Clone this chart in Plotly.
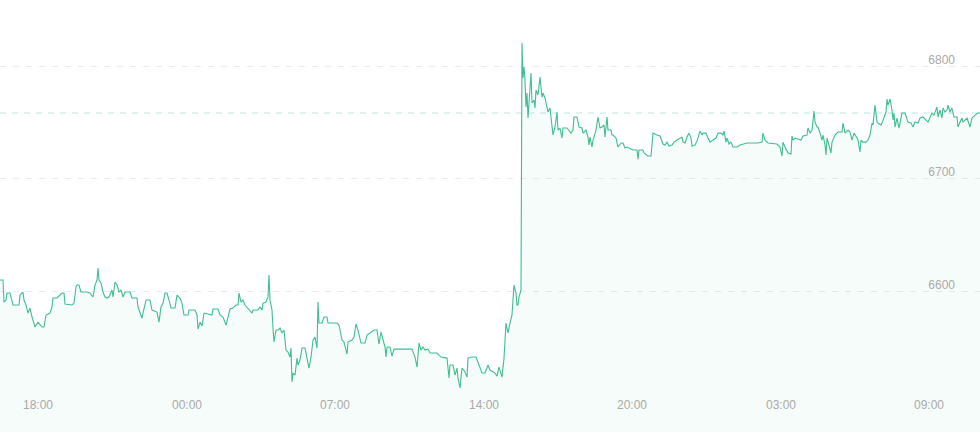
import plotly.graph_objects as go

# sample index along the time axis
idx = [0, 3, 4, 6, 7, 10, 13, 19, 20, 23, 24, 26, 28, 30, 32, 33, 35, 38, 40, 42, 44, 46, 50, 52, 53, 57,
       62, 64, 65, 72, 74, 76, 77, 79, 81, 87, 90, 93, 95, 97, 98, 99, 101, 103, 105, 107, 109, 112, 113,
       115, 117, 119, 121, 123, 125, 130, 132, 137, 138, 142, 143, 146, 150, 152, 157, 159, 161, 163, 165,
       167, 169, 171, 175, 177, 180, 182, 184, 188, 189, 195, 197, 198, 200, 202, 204, 208, 212, 213, 218,
       220, 223, 226, 228, 230, 233, 236, 238, 239, 241, 243, 245, 248, 252, 253, 258, 260, 262, 263, 266,
       268, 269, 270, 272, 273, 274, 276, 278, 280, 282, 284, 286, 288, 290, 291, 292, 293, 295, 297, 298,
       300, 302, 305, 307, 309, 311, 313, 315, 317, 318, 319, 322, 324, 327, 328, 337, 339, 342, 344, 346,
       347, 348, 352, 354, 356, 358, 361, 365, 367, 370, 374, 377, 379, 381, 383, 385, 386, 387, 390, 392,
       394, 412, 415, 417, 419, 421, 423, 425, 428, 430, 437, 441, 447, 449, 450, 453, 455, 457, 458, 460,
       462, 463, 465, 467, 468, 472, 476, 478, 482, 485, 488, 490, 493, 495, 497, 499, 502, 504, 506, 508,
       510, 512, 514, 516, 517, 518, 519, 521, 522, 523, 524, 525, 526, 527, 528, 530, 531, 532, 534, 535,
       536, 538, 539, 540, 542, 543, 545, 547, 548, 550, 552, 553, 555, 557, 558, 560, 562, 563, 567, 569,
       571, 573, 574, 577, 579, 582, 583, 586, 588, 589, 590, 592, 593, 596, 598, 600, 602, 604, 605, 607,
       608, 611, 612, 613, 616, 618, 621, 623, 625, 627, 629, 633, 637, 638, 639, 643, 644, 646, 648, 651,
       652, 653, 657, 660, 663, 665, 667, 669, 672, 674, 677, 679, 682, 683, 685, 687, 689, 691, 692, 695,
       697, 700, 702, 703, 706, 708, 710, 713, 716, 718, 721, 723, 724, 726, 727, 729, 731, 733, 737, 740,
       747, 753, 758, 762, 763, 765, 768, 777, 780, 782, 783, 785, 788, 791, 792, 793, 795, 801, 803, 807,
       808, 810, 812, 814, 815, 817, 818, 820, 822, 823, 825, 826, 827, 829, 831, 832, 835, 838, 842, 843,
       845, 848, 850, 852, 854, 857, 858, 860, 861, 863, 866, 868, 870, 872, 873, 875, 877, 878, 881, 882,
       884, 886, 887, 888, 890, 892, 893, 894, 895, 897, 899, 901, 902, 905, 907, 908, 911, 913, 915, 918,
       920, 923, 928, 932, 934, 937, 938, 940, 942, 943, 945, 947, 948, 950, 952, 954, 957, 958, 960, 962,
       963, 967, 970, 972, 975, 978, 980]

price = [6609.8, 6609.8, 6590.2, 6592.0, 6598.2, 6598.2, 6587.6, 6587.6, 6596.4, 6599.1, 6592.0, 6587.6,
         6580.4, 6584.9, 6576.9, 6574.2, 6568.0, 6572.4, 6569.8, 6568.0, 6568.0, 6578.7, 6580.4, 6585.8,
         6593.8, 6593.8, 6598.2, 6598.2, 6588.4, 6587.6, 6589.3, 6603.6, 6605.3, 6605.3, 6599.1, 6599.1,
         6598.2, 6594.7, 6605.3, 6609.8, 6620.4, 6609.8, 6607.1, 6599.1, 6594.7, 6593.8, 6594.7, 6600.9,
         6594.7, 6608.0, 6605.3, 6599.1, 6600.9, 6594.7, 6599.1, 6599.1, 6593.8, 6593.8, 6585.8, 6576.0,
         6580.4, 6592.0, 6592.0, 6583.1, 6581.3, 6572.4, 6585.8, 6589.3, 6598.2, 6598.2, 6592.0, 6584.9,
         6584.9, 6596.4, 6593.8, 6589.3, 6578.7, 6578.7, 6583.1, 6583.1, 6578.7, 6566.2, 6572.4, 6568.9,
         6580.4, 6579.6, 6578.7, 6584.0, 6584.0, 6578.7, 6576.9, 6569.8, 6576.0, 6584.0, 6584.9, 6587.6,
         6587.6, 6598.2, 6590.2, 6592.0, 6587.6, 6584.9, 6580.4, 6583.1, 6583.1, 6585.8, 6583.1, 6589.3,
         6590.2, 6594.7, 6614.2, 6592.0, 6583.1, 6567.1, 6554.7, 6565.3, 6565.3, 6567.1, 6562.7, 6565.3,
         6547.5, 6545.8, 6541.3, 6549.3, 6519.1, 6527.1, 6525.3, 6540.4, 6534.2, 6538.7, 6549.3, 6549.3,
         6538.7, 6531.5, 6541.3, 6556.4, 6559.1, 6549.3, 6590.2, 6571.6, 6571.6, 6576.9, 6576.9, 6571.6,
         6571.6, 6569.8, 6556.4, 6554.7, 6547.5, 6544.0, 6554.7, 6556.4, 6559.1, 6570.7, 6565.3, 6553.8,
         6553.8, 6560.9, 6562.7, 6565.3, 6565.3, 6552.9, 6563.6, 6557.3, 6550.2, 6541.3, 6550.2, 6550.2,
         6542.2, 6548.4, 6548.4, 6541.3, 6532.4, 6553.8, 6547.5, 6550.2, 6547.5, 6548.4, 6544.9, 6544.9,
         6541.3, 6540.4, 6522.7, 6534.2, 6534.2, 6525.3, 6531.5, 6522.7, 6513.8, 6531.5, 6530.7, 6528.0,
         6523.5, 6540.4, 6541.3, 6541.3, 6536.9, 6527.1, 6527.1, 6534.2, 6529.8, 6528.0, 6527.1, 6524.4,
         6532.4, 6523.5, 6540.4, 6571.6, 6562.7, 6571.6, 6578.7, 6605.3, 6598.2, 6587.6, 6587.6, 6594.7,
         6600.9, 6820.5, 6789.4, 6799.1, 6787.6, 6763.6, 6776.0, 6753.8, 6780.5, 6793.8, 6767.1, 6769.8,
         6762.7, 6778.7, 6774.2, 6781.3, 6790.2, 6772.4, 6776.0, 6771.6, 6762.7, 6759.1, 6762.7, 6745.8,
         6738.7, 6745.8, 6759.1, 6743.1, 6744.9, 6736.0, 6744.9, 6744.9, 6743.1, 6740.4, 6743.1, 6754.7,
         6754.7, 6745.8, 6744.9, 6740.4, 6743.1, 6736.9, 6729.8, 6736.9, 6728.0, 6734.2, 6743.1, 6754.7,
         6744.9, 6745.8, 6747.6, 6736.9, 6754.7, 6743.1, 6743.1, 6738.7, 6738.7, 6736.0, 6728.0, 6731.6,
         6731.6, 6727.1, 6728.0, 6727.1, 6725.3, 6725.3, 6717.3, 6725.3, 6725.3, 6722.7, 6720.9, 6720.0,
         6720.0, 6732.4, 6740.4, 6738.7, 6737.8, 6730.7, 6729.8, 6732.4, 6728.9, 6729.8, 6732.4, 6734.2,
         6735.1, 6736.9, 6732.4, 6731.6, 6736.9, 6740.4, 6736.0, 6728.9, 6729.8, 6733.3, 6742.2, 6738.7,
         6740.4, 6740.4, 6736.0, 6732.4, 6734.2, 6736.0, 6740.4, 6740.4, 6738.7, 6742.2, 6732.4, 6736.0,
         6730.7, 6732.4, 6728.0, 6728.0, 6729.8, 6731.6, 6731.6, 6731.6, 6732.4, 6740.4, 6734.2, 6731.6,
         6730.7, 6728.0, 6720.0, 6732.4, 6728.0, 6722.7, 6721.8, 6737.8, 6734.2, 6736.0, 6734.2, 6737.8,
         6738.7, 6744.9, 6740.4, 6743.1, 6760.0, 6750.2, 6745.8, 6745.8, 6740.4, 6734.2, 6738.7, 6729.8,
         6720.9, 6736.0, 6729.8, 6722.7, 6732.4, 6738.7, 6741.3, 6741.3, 6749.3, 6740.4, 6743.1, 6741.3,
         6734.2, 6740.4, 6736.0, 6734.2, 6723.6, 6734.2, 6732.4, 6732.4, 6734.2, 6738.7, 6749.3, 6747.6,
         6765.3, 6750.2, 6749.3, 6747.6, 6749.3, 6754.7, 6759.1, 6770.7, 6765.3, 6770.7, 6760.9, 6752.0,
         6758.2, 6745.8, 6753.8, 6744.9, 6752.0, 6758.2, 6758.2, 6752.9, 6750.2, 6749.3, 6745.8, 6750.2,
         6749.3, 6753.8, 6754.7, 6750.2, 6758.2, 6756.4, 6763.6, 6754.7, 6760.9, 6753.8, 6762.7, 6759.1,
         6760.9, 6765.3, 6759.1, 6762.7, 6754.7, 6754.7, 6745.8, 6750.2, 6753.8, 6750.2, 6753.8, 6745.8,
         6753.8, 6756.4, 6758.2, 6758.2]

tick_idx = [38, 186.5, 335, 483.5, 632, 780.5, 929]
tick_labels = ["18:00", "00:00", "07:00", "14:00", "20:00", "03:00", "09:00"]
price_ticks = [6600, 6700, 6800]

line_color = "#3fbf8f"
label_color = "#aaaaaa"

fig = go.Figure()
fig.add_trace(go.Scatter(
    x=idx, y=price, mode="lines",
    line=dict(color=line_color, width=1.1),
    fill="tozeroy", fillcolor="rgba(63,191,143,0.05)",
    hoverinfo="skip",
))

last_price = price[-1]
fig.add_shape(type="line", xref="paper", x0=0, x1=1, yref="y", y0=last_price, y1=last_price,
              line=dict(color="rgba(63,191,143,0.35)", width=1, dash="6px,6px"), layer="below")

# time labels drawn inside the plot area, near its bottom edge
for tx, tl in zip(tick_idx, tick_labels):
    fig.add_annotation(x=tx, y=0.0625, xref="x", yref="paper", text=tl, showarrow=False,
                       xanchor="center", yanchor="middle",
                       font=dict(size=12, color=label_color))

fig.update_layout(
    width=980, height=432,
    margin=dict(l=0, r=0, t=0, b=0),
    paper_bgcolor="white", plot_bgcolor="white",
    showlegend=False,
    hovermode=False,
    font=dict(family="Liberation Sans, Arial, sans-serif", size=12, color=label_color),
    xaxis=dict(
        range=[0, 980], tickvals=tick_idx, showticklabels=False,
        showgrid=False, zeroline=False, showline=False, ticks="",
        fixedrange=True,
    ),
    yaxis=dict(
        range=[6474.7, 6858.7], side="right", tickvals=price_ticks,
        showgrid=True, gridcolor="#ebebeb", griddash="6px,7px", gridwidth=1,
        zeroline=False, showline=False,
        ticklabelposition="inside top", ticklabelstandoff=22, ticklabelshift=2,
        tickfont=dict(size=12, color=label_color),
        fixedrange=True,
    ),
)

fig.write_html("out.html", config={"displayModeBar": False, "staticPlot": True})

# remove the default page margin so the chart fills the window exactly
with open("out.html", "r", encoding="utf-8") as f:
    html = f.read()
html = html.replace("<body>", '<body style="margin:0;padding:0;overflow:hidden">', 1)
with open("out.html", "w", encoding="utf-8") as f:
    f.write(html)
